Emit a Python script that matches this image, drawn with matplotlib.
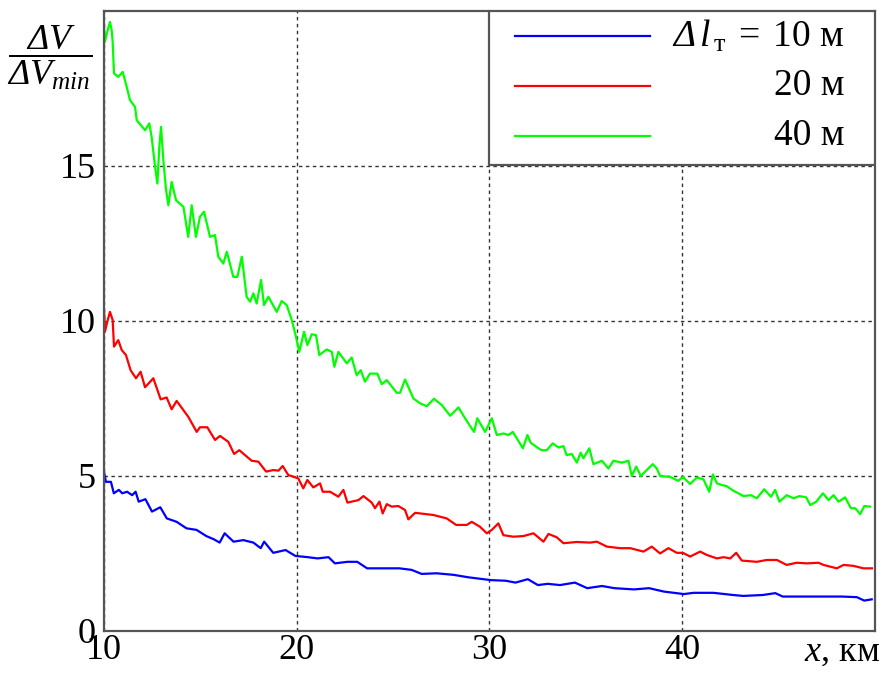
import matplotlib
matplotlib.use("Agg")
import matplotlib.pyplot as plt
from matplotlib.patches import Rectangle
from matplotlib.lines import Line2D

plt.rcParams['font.family'] = ['Liberation Serif', 'DejaVu Serif']
plt.rcParams['mathtext.fontset'] = 'custom'
plt.rcParams['mathtext.rm'] = 'Liberation Serif'
plt.rcParams['mathtext.it'] = 'Liberation Serif:italic'
# italic font under \mathsf so that the capital Delta can be set in italic too
plt.rcParams['mathtext.sf'] = 'Liberation Serif:italic'

# values (x in km)
x_green = [10.0, 10.05, 10.17, 10.31, 10.4, 10.45, 10.52, 10.74, 10.97, 11.09, 11.35, 11.61, 11.7,
           12.13, 12.35, 12.47, 12.65, 12.77, 12.87, 12.96, 13.08, 13.22, 13.34, 13.51, 13.74,
           14.12, 14.37, 14.55, 14.77, 14.98, 15.19, 15.5, 15.76, 15.93, 16.19, 16.37, 16.71,
           16.92, 17.15, 17.4, 17.58, 17.75, 17.92, 18.15, 18.3, 18.53, 18.96, 19.22, 19.48,
           19.74, 19.96, 20.13, 20.38, 20.55, 20.78, 21.0, 21.17, 21.56, 21.82, 21.95, 22.16,
           22.6, 22.85, 23.11, 23.32, 23.54, 23.8, 24.18, 24.41, 24.67, 25.19, 25.36, 25.62,
           26.05, 26.4, 26.75, 27.12, 27.52, 27.96, 28.39, 28.79, 29.2, 29.37, 29.77, 30.12,
           30.38, 30.72, 30.98, 31.21, 31.42, 31.73, 31.97, 32.14, 32.54, 32.71, 32.97, 33.28,
           33.58, 33.84, 34.0, 34.27, 34.53, 34.73, 34.87, 35.18, 35.39, 35.83, 36.17, 36.43,
           36.87, 37.21, 37.38, 37.61, 37.85, 38.16, 38.47, 38.68, 38.85, 39.37, 39.8, 40.03,
           40.41, 40.76, 41.1, 41.4, 41.59, 41.8, 42.05, 42.31, 42.66, 43.18, 43.56, 43.87,
           44.25, 44.6, 44.82, 45.04, 45.42, 45.77, 46.08, 46.43, 46.64, 46.95, 47.3, 47.59,
           47.85, 48.11, 48.45, 48.75, 48.97, 49.23, 49.45, 49.75]
y_green = [19.5, 19.0, 19.33, 19.64, 19.37, 19.0, 17.98, 17.87, 18.03, 17.76, 17.12, 16.9, 16.47,
           16.15, 16.37, 15.94, 14.97, 14.43, 15.61, 16.26, 15.18, 14.22, 13.73, 14.48, 13.89,
           13.68, 12.71, 13.73, 12.71, 13.36, 13.52, 12.71, 12.77, 12.07, 11.85, 12.23, 11.42,
           11.42, 12.07, 10.78, 10.62, 10.89, 10.56, 11.32, 10.51, 10.78, 10.29, 10.64, 10.51,
           10.03, 9.49, 9.0, 9.65, 9.22, 9.57, 9.54, 8.9, 9.08, 9.0, 8.52, 9.0,
           8.63, 8.82, 8.25, 8.41, 8.04, 8.3, 8.3, 7.96, 8.09, 7.68, 7.68, 8.11,
           7.5, 7.34, 7.25, 7.49, 7.29, 6.94, 7.21, 6.8, 6.42, 6.86, 6.42, 6.86,
           6.32, 6.37, 6.32, 6.42, 6.21, 5.89, 6.32, 6.07, 5.89, 5.83, 5.83, 6.05,
           5.92, 5.96, 5.67, 5.71, 5.43, 5.75, 5.57, 5.89, 5.38, 5.49, 5.24, 5.49,
           5.43, 5.49, 5.0, 5.3, 5.0, 5.19, 5.38, 5.24, 5.0, 4.97, 4.84, 4.97,
           4.74, 4.95, 4.89, 4.49, 5.05, 4.76, 4.71, 4.67, 4.52, 4.35, 4.38, 4.28,
           4.57, 4.33, 4.55, 4.17, 4.38, 4.28, 4.35, 4.31, 4.06, 4.17, 4.44, 4.22,
           4.38, 4.17, 4.31, 3.96, 3.96, 3.77, 4.03, 4.01]

x_red = [10.0, 10.05, 10.17, 10.31, 10.45, 10.52, 10.74, 10.92, 11.14, 11.38, 11.66, 11.9, 12.13,
         12.56, 12.94, 13.25, 13.51, 13.77, 14.37, 14.81, 14.98, 15.36, 15.76, 16.02, 16.45,
         16.75, 17.02, 17.66, 18.01, 18.41, 18.79, 19.05, 19.27, 19.56, 20.08, 20.34, 20.55,
         20.86, 21.21, 21.35, 21.73, 22.16, 22.42, 22.63, 23.2, 23.46, 23.89, 24.06, 24.29,
         24.46, 24.67, 24.93, 25.27, 25.62, 25.79, 26.14, 27.09, 27.78, 28.27, 28.82, 29.08,
         29.51, 29.86, 30.12, 30.46, 30.72, 31.24, 31.76, 32.28, 32.8, 33.06, 33.49, 33.84,
         34.53, 35.22, 35.57, 36.09, 36.78, 37.3, 37.99, 38.42, 38.85, 39.28, 39.72, 40.03,
         40.41, 40.93, 41.28, 41.8, 42.14, 42.49, 42.8, 43.09, 43.87, 44.39, 44.91, 45.42,
         45.94, 46.47, 47.07, 47.33, 48.02, 48.37, 48.88, 49.4, 49.84]
y_red = [10.4, 9.65, 9.97, 10.29, 10.03, 9.17, 9.38, 9.06, 8.9, 8.41, 8.15, 8.36, 7.86,
         8.15, 7.47, 7.53, 7.15, 7.42, 6.91, 6.42, 6.57, 6.57, 6.16, 6.29, 6.1,
         5.71, 5.83, 5.49, 5.46, 5.14, 5.19, 5.17, 5.32, 5.03, 4.92, 4.6, 4.87,
         4.63, 4.76, 4.49, 4.49, 4.33, 4.55, 4.14, 4.22, 4.35, 4.14, 3.96, 4.17,
         3.79, 4.09, 4.01, 4.03, 3.9, 3.6, 3.81, 3.74, 3.63, 3.42, 3.42, 3.52,
         3.36, 3.15, 3.26, 3.47, 3.09, 3.04, 3.06, 3.15, 2.88, 3.13, 3.02, 2.83,
         2.87, 2.85, 2.88, 2.72, 2.67, 2.67, 2.56, 2.72, 2.5, 2.67, 2.52, 2.52,
         2.4, 2.56, 2.45, 2.34, 2.38, 2.34, 2.52, 2.27, 2.23, 2.29, 2.29, 2.13,
         2.2, 2.18, 2.2, 2.13, 2.02, 2.13, 2.1, 2.02, 2.02]

x_blue = [10.0, 10.1, 10.36, 10.51, 10.77, 10.95, 11.2, 11.46, 11.64, 11.8, 12.15, 12.49, 12.92,
          13.26, 13.77, 14.28, 14.8, 15.31, 15.69, 16.0, 16.26, 16.72, 17.23, 17.75, 18.13,
          18.31, 18.78, 19.42, 19.93, 20.57, 21.08, 21.65, 21.98, 22.63, 23.14, 23.65, 24.42,
          25.32, 25.96, 26.48, 27.25, 28.14, 28.91, 30.07, 30.84, 31.35, 31.99, 32.51, 33.02,
          33.66, 34.43, 35.07, 35.84, 36.48, 37.5, 38.28, 39.05, 40.08, 40.59, 41.62, 42.64,
          43.16, 44.18, 44.83, 45.21, 46.24, 47.26, 48.29, 49.06, 49.44, 49.83]
y_blue = [5.14, 4.81, 4.81, 4.44, 4.55, 4.44, 4.49, 4.38, 4.49, 4.17, 4.25, 3.85, 3.99,
          3.63, 3.52, 3.31, 3.26, 3.06, 2.96, 2.85, 3.15, 2.88, 2.93, 2.85, 2.67,
          2.88, 2.52, 2.61, 2.42, 2.38, 2.34, 2.38, 2.18, 2.23, 2.23, 2.02, 2.02,
          2.02, 1.97, 1.84, 1.86, 1.81, 1.73, 1.64, 1.62, 1.56, 1.67, 1.48, 1.52,
          1.48, 1.56, 1.38, 1.45, 1.38, 1.34, 1.38, 1.27, 1.19, 1.23, 1.23, 1.16,
          1.13, 1.16, 1.22, 1.11, 1.11, 1.11, 1.11, 1.09, 0.98, 1.02]

series = [(x_blue, y_blue, '#0000ff', r'$\mathsf{Δ}\,\mathit{l}_{\,\mathrm{т}}\;=\;10$ м'),
          (x_red, y_red, '#ff0000', '20 м'),
          (x_green, y_green, '#00ff00', '40 м')]

fig = plt.figure(figsize=(8.85, 6.77), dpi=100)
ax = fig.add_axes([0.1175, 0.068, 0.8712, 0.916])

for xs, ys, col, lab in series:
    ax.plot(xs, ys, color=col, lw=1.6)

ax.set_xlim(10, 50)
ax.set_ylim(0, 20)
ax.set_xticks([10, 20, 30, 40])
ax.set_yticks([0, 5, 10, 15])
ax.tick_params(length=0, labelsize=26)
ax.tick_params(axis='x', pad=2)
ax.tick_params(axis='y', pad=6)
ax.grid(True, color='#333333', lw=1.0, linestyle=(0, (2.5, 2.5)))
for sp in ax.spines.values():
    sp.set_color('#555555')
    sp.set_linewidth(1.6)

# legend box drawn by hand so the labels can be right aligned
ax.add_patch(Rectangle((0.4994, 0.751), 0.5006, 0.249, transform=ax.transAxes,
                       facecolor='white', edgecolor='#555555', lw=1.6, zorder=3))
rows = [0.959, 0.879, 0.798]
for (xs, ys, col, lab), yr in zip(series, rows):
    ax.add_line(Line2D([0.533, 0.708], [yr, yr], color=col, lw=1.6,
                       transform=ax.transAxes, zorder=4))
    ax.text(0.961, yr, lab, transform=ax.transAxes, ha='right', va='center',
            fontsize=27, zorder=5)

fig.text(50 / 885, 1 - 58 / 677,
         r'$\dfrac{\mathsf{Δ}\mathit{V}}{\mathsf{Δ}\mathit{V_{min}}}$',
         ha='center', va='center', fontsize=26)
fig.text(880 / 885, 1 - 652 / 677, r'$\mathit{x}$, км', ha='right', va='center', fontsize=26)

fig.savefig('out.png', dpi=100)
